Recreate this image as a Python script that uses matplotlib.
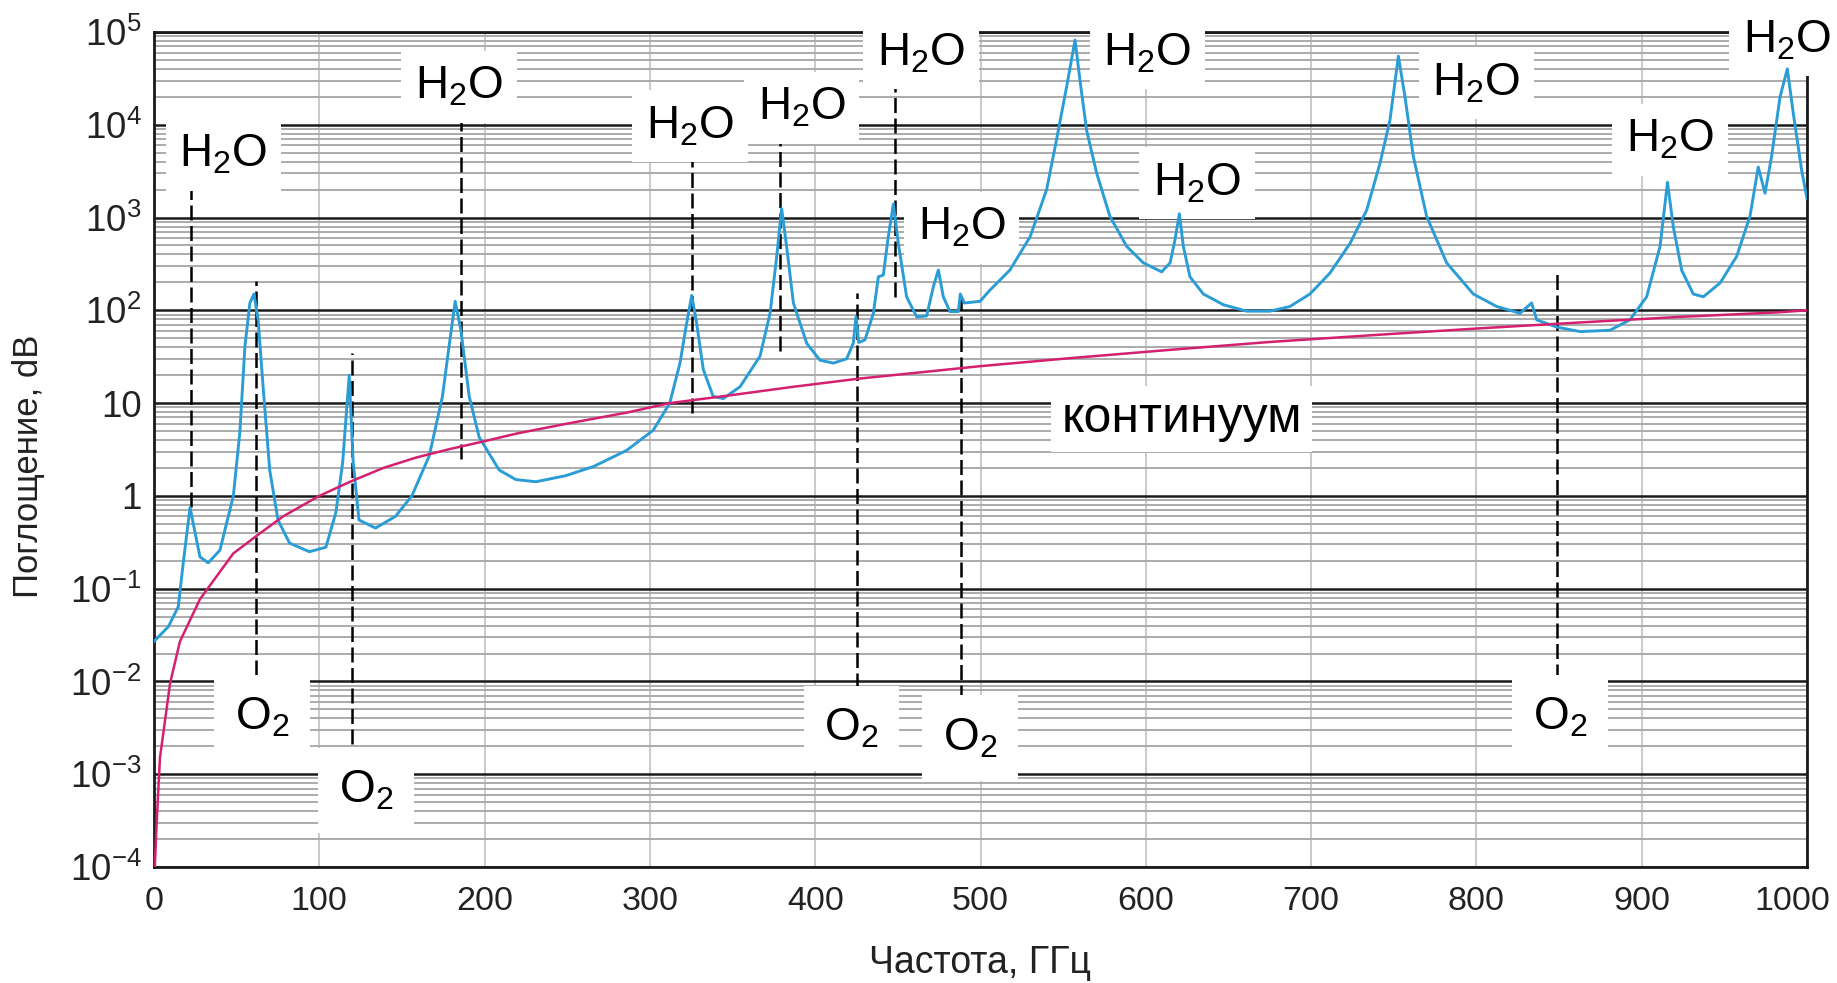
import matplotlib
matplotlib.use("Agg")
import matplotlib.pyplot as plt
import matplotlib.transforms as mtransforms
from matplotlib.ticker import LogLocator, FixedLocator, FixedFormatter, NullFormatter

plt.rcParams['font.family'] = ['Liberation Sans', 'DejaVu Sans']
plt.rcParams['mathtext.fontset'] = 'custom'
plt.rcParams['mathtext.rm'] = 'Liberation Sans'
plt.rcParams['mathtext.it'] = 'Liberation Sans:italic'
plt.rcParams['mathtext.bf'] = 'Liberation Sans:bold'

# ---- data: total absorption (blue) ----
freq_ghz = [0, 8.7, 14.7, 17.7, 21.8, 27.8, 32.8, 39.9, 48, 52, 55, 58, 60.5, 63, 66, 70, 75, 82, 94,
            104, 110, 114.1, 118.1, 120.5, 124, 134, 146, 156, 166.5, 174.5, 178.5, 182.2, 185.6, 190.7,
            196.7, 208.8, 218.9, 231, 249, 265.8, 286, 302, 312, 318.2, 322.2, 325.3, 328.3, 332.3, 338.3,
            344.4, 354.5, 366.6, 372.7, 376.7, 379.7, 382.7, 386.8, 394.9, 402.9, 411, 419, 423, 424.7,
            426.3, 430.1, 435.2, 438.2, 441.2, 444.2, 447.3, 450.3, 455.3, 461.4, 467.4, 471.5, 474.5,
            477.5, 481.5, 486.6, 487.8, 490.2, 499.7, 505.7, 517.8, 530, 540, 546, 552.1, 557.2, 560.2,
            564.2, 570.3, 578.3, 588.4, 598.5, 609.6, 614.7, 617.7, 620.3, 622.7, 626.7, 634.8, 646.9,
            661, 675.1, 687.2, 699.3, 711.4, 723.5, 733.6, 741.7, 747.7, 752.8, 756.8, 761.8, 769.9, 782,
            798.1, 812.3, 826.4, 833.4, 836.5, 848.6, 862.7, 880.8, 892.9, 903, 911.1, 915.6, 919.1,
            924.2, 931.2, 937.3, 947.4, 957.4, 965.5, 970.5, 974.6, 978.6, 983.7, 988.1, 991.7, 996.8, 1000]
absorption_db = [0.027, 0.039, 0.064, 0.19, 0.75, 0.22, 0.19, 0.26, 1.0, 5, 41, 120, 150, 79, 15, 1.9, 0.55,
                 0.31, 0.25, 0.28, 0.66, 2.26, 20, 2.3, 0.55, 0.45, 0.6, 1.0, 2.7, 11.8, 41, 125, 62, 11.8,
                 4.3, 1.9, 1.5, 1.42, 1.65, 2.07, 3.1, 5.1, 10, 27, 72, 145, 72, 23, 11.8, 11.2, 15, 32, 93,
                 380, 1250, 490, 120, 44, 29, 27, 30, 44, 85, 45, 48, 93, 230, 240, 620, 1400, 525, 140, 85,
                 87, 180, 272, 140, 97, 97, 150, 120, 125, 165, 272, 620, 2000, 6900, 25700, 82000, 30000,
                 8700, 3000, 1030, 490, 325, 260, 325, 580, 1100, 490, 230, 150, 115, 98, 98, 110, 150, 252,
                 525, 1200, 3850, 11200, 55000, 20000, 4600, 1030, 325, 150, 110, 93, 120, 79, 66, 59, 61,
                 79, 140, 490, 2400, 800, 270, 150, 140, 197, 380, 1030, 3500, 1830, 4600, 20000, 40000,
                 13300, 3200, 1600]

# ---- data: continuum (magenta) ----
cont_freq = [0.5, 1.6, 3.6, 9.7, 15.7, 27.8, 48, 62, 78, 100, 118.6, 138.7, 158.9, 179, 199, 219.4, 249.7,
             286, 312, 346.5, 386.8, 427, 467.4, 499.7, 554, 614.6, 675, 744, 802.2, 862.7, 923, 981.7, 1000]
cont_db = [1e-4, 3e-4, 1.5e-3, 9.5e-3, 0.027, 0.077, 0.24, 0.37, 0.6, 1.0, 1.42, 2.0, 2.6, 3.2, 3.85, 4.7,
           6.0, 7.9, 10, 12, 15, 18.4, 21.8, 25, 30.5, 37.5, 45.6, 55, 64, 74, 85, 95, 100]

# ---- annotations ----
h2o_x = [42, 184.5, 324.3, 391.8, 464, 488.6, 601, 631, 800, 917, 987.7]
h2o_y = [3510, 19000, 7200, 11300, 44000, 573, 44000, 1750, 20900, 5100, 60800]
o2_x = [65.2, 128.3, 422, 493.6, 850.6]
o2_y = [0.0030, 5.0e-4, 0.00229, 0.00182, 0.0030]
h2o_line_x = [22.2, 185.5, 325.7, 378.7, 448.3]
h2o_line_lo = [0.75, 2.5, 7.8, 36, 140]
h2o_line_hi = [2700, 14000, 5800, 8700, 33000]
o2_line_x = [61.8, 119.6, 425, 488, 848.6]
o2_line_lo = [0.0117, 0.0021, 0.0085, 0.0063, 0.0105]
o2_line_hi = [205, 35, 155, 150, 270]
cont_label = ("континуум", 621.6, 4.89)

y_ticks = [1e-4, 1e-3, 1e-2, 1e-1, 1, 10, 1e2, 1e3, 1e4, 1e5]
y_ticklabels = [r'$\mathregular{10^{-4}}$', r'$\mathregular{10^{-3}}$', r'$\mathregular{10^{-2}}$',
                r'$\mathregular{10^{-1}}$', '1', '10', r'$\mathregular{10^{2}}$', r'$\mathregular{10^{3}}$',
                r'$\mathregular{10^{4}}$', r'$\mathregular{10^{5}}$']
x_ticks = [0, 100, 200, 300, 400, 500, 600, 700, 800, 900, 1000]

fig = plt.figure(figsize=(18.37, 9.83), dpi=100)
ax = fig.add_axes([154/1837, 1-867/983, (1807-154)/1837, (867-32)/983])
ax.set_yscale('log')
ax.set_xlim(0, 1000)
ax.set_ylim(1e-4, 1e5)

ax.yaxis.set_major_locator(FixedLocator(y_ticks))
ax.yaxis.set_major_formatter(FixedFormatter(y_ticklabels))
ax.yaxis.set_minor_locator(LogLocator(base=10, subs=range(2, 10), numticks=30))
ax.yaxis.set_minor_formatter(NullFormatter())
ax.set_xticks(x_ticks)
ax.set_xticklabels([str(v) for v in x_ticks])

ax.set_axisbelow(True)
ax.grid(which='major', axis='x', color='#c6c6c6', lw=1.3)
ax.grid(which='minor', axis='y', color='#ababab', lw=1.4)
ax.grid(which='major', axis='y', color='#1a1a1a', lw=1.8)
ax.tick_params(which='both', length=0)
ax.tick_params(axis='y', labelsize=26.5, pad=9, colors='#222222')
ax.tick_params(axis='x', labelsize=24.5, pad=14, colors='#222222')
for s in ax.spines.values():
    s.set_linewidth(2.0)
    s.set_color('#1a1a1a')

# shift the last x tick label slightly left, as in the reference
last_lbl = ax.xaxis.get_major_ticks()[-1].label1
last_lbl.set_transform(last_lbl.get_transform() +
                       mtransforms.ScaledTranslation(-0.15, 0, fig.dpi_scale_trans))

for x, lo, hi in zip(h2o_line_x, h2o_line_lo, h2o_line_hi):
    ax.plot([x, x], [lo, hi], color='black', lw=1.8, ls=(0, (6, 2.2)), zorder=2)
for x, lo, hi in zip(o2_line_x, o2_line_lo, o2_line_hi):
    ax.plot([x, x], [lo, hi], color='black', lw=1.8, ls=(0, (6, 2.2)), zorder=2)

ax.plot(freq_ghz, absorption_db, color='#2a9dd6', lw=2.1, zorder=6)
ax.plot(cont_freq, cont_db, color='#d4206f', lw=1.8, zorder=6.1)

box = dict(facecolor='white', edgecolor='none', boxstyle='square,pad=0.3')
for x, y in zip(h2o_x, h2o_y):
    ax.text(x, y, r'H$_\mathregular{2}$O', fontsize=33, ha='center', va='baseline',
            bbox=box, zorder=5, clip_on=False, color='black')
for x, y in zip(o2_x, o2_y):
    ax.text(x, y, r'O$_\mathregular{2}$', fontsize=33, ha='center', va='baseline',
            bbox=dict(facecolor='white', edgecolor='none', boxstyle='square,pad=0.45'),
            zorder=5, clip_on=False, color='black')
ax.text(cont_label[1], cont_label[2], cont_label[0], fontsize=36, ha='center', va='baseline',
        bbox=dict(facecolor='white', edgecolor='none', boxstyle='square,pad=0.2'), zorder=5, color='black')

fig.text(29/1837, 1-466/983, 'Поглощение, dB', rotation=90, ha='center', va='center', fontsize=25,
         color='#222222')
fig.text(980/1837, 1-963/983, 'Частота, ГГц', ha='center', va='center', fontsize=27, color='#222222')

fig.savefig('out.png', dpi=100)
